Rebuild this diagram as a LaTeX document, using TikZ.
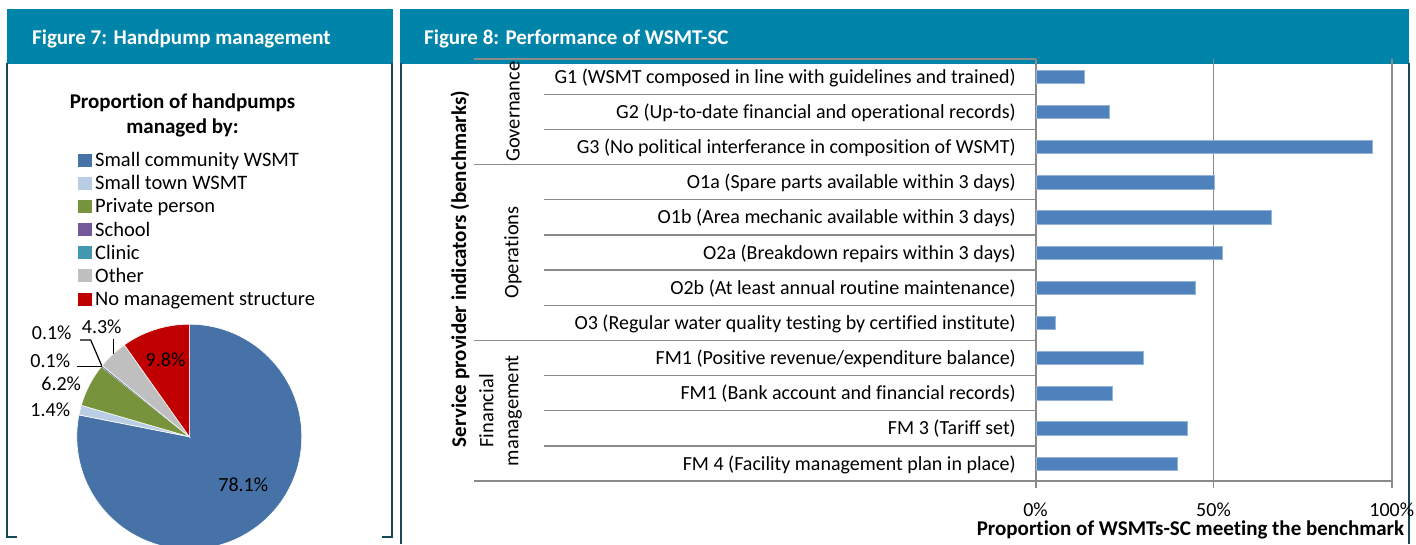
\documentclass[tikz,border=0pt]{standalone}
\usepackage{fontspec}
\setmainfont{Carlito}[Ligatures=NoCommon]
\definecolor{hdrteal}{HTML}{0084A9}
\definecolor{framecol}{HTML}{144A57}
\definecolor{gridgray}{HTML}{8A8A8A}
\definecolor{barblue}{HTML}{4F81BD}
\definecolor{pieblue}{HTML}{4672A7}
\definecolor{pielight}{HTML}{B9CDE5}
\definecolor{piegreen}{HTML}{77933C}
\definecolor{piepurple}{HTML}{73599B}
\definecolor{pieteal}{HTML}{4198AF}
\definecolor{piegray}{HTML}{BFBFBF}
\definecolor{piered}{HTML}{C00000}
\begin{document}
\begin{tikzpicture}[x=1pt,y=-1pt,
  txt/.style={inner sep=0pt, font=\fontsize{20}{24}\selectfont},
  btxt/.style={inner sep=0pt, font=\fontsize{21}{25}\selectfont\bfseries},
  hdrtext/.style={btxt, text=white, anchor=base west},
  framepen/.style={draw=framecol, line width=1.2pt},
  axisline/.style={draw=gridgray, line width=1.3pt},
  barbox/.style={fill=barblue, draw=barblue!60!white, line width=0.4pt},
  leader/.style={draw=black, line width=1.2pt},
  slice/.style={draw=white, line width=0.6pt},
  keybox/.style={minimum width=13.3pt, minimum height=13pt, inner sep=0pt},
]
\useasboundingbox (0,0) rectangle (1416,544);
\fill[white] (0,0) rectangle (1416,544);

% ---------- panel headers and frames ----------
\fill[hdrteal] (7,9) rectangle (393,63.5);
\fill[hdrteal] (400,9) rectangle (1409,63.5);
\node[hdrtext] (title7) at (32,44.3) {Figure 7: Handpump management};
\node[hdrtext] (title8) at (424,44.3) {Figure 8: Performance of WSMT-SC};
\draw[framepen] (7,63) -- (7,537) -- (17,537);
\draw[framepen] (392,63) -- (392,537) -- (382,537);
\draw[framepen] (401,63) -- (401,544);
\draw[framepen] (1409,63) -- (1409,544);

% ---------- Figure 7: pie chart ----------
\node[btxt, anchor=base] (pietitleA) at (182.5,108) {Proportion of handpumps};
\node[btxt, anchor=base] (pietitleB) at (182.5,133) {managed by:};

\foreach \lab/\col [count=\i from 0] in {Small community WSMT/pieblue, Small town WSMT/pielight,
  Private person/piegreen, School/piepurple, Clinic/pieteal, Other/piegray,
  No management structure/piered} {
  \node[keybox, fill=\col] (key\i) at (85,{166.7+23.1*\i-6.3}) {};
  \node[txt, font=\fontsize{20.5}{24}\selectfont, anchor=base west] (keytext\i) at (95,{166.7+23.1*\i}) {\lab};
}

\begin{scope}[shift={(189.3,436.7)}, yscale=-1]
  \filldraw[slice, fill=pieblue]   (0,0) -- (90:112.5) arc[start angle=90, end angle=-191.16, radius=112.5] -- cycle;
  \filldraw[slice, fill=pielight]  (0,0) -- (-191.16:112.5) arc[start angle=-191.16, end angle=-196.2, radius=112.5] -- cycle;
  \filldraw[slice, fill=piegreen]  (0,0) -- (-196.2:112.5) arc[start angle=-196.2, end angle=-218.52, radius=112.5] -- cycle;
  \fill[piepurple] (0,0) -- (-218.52:112.5) arc[start angle=-218.52, end angle=-218.88, radius=112.5] -- cycle;
  \fill[pieteal]   (0,0) -- (-218.88:112.5) arc[start angle=-218.88, end angle=-219.24, radius=112.5] -- cycle;
  \filldraw[slice, fill=piegray]   (0,0) -- (-219.24:112.5) arc[start angle=-219.24, end angle=-234.72, radius=112.5] -- cycle;
  \filldraw[slice, fill=piered]    (0,0) -- (-234.72:112.5) arc[start angle=-234.72, end angle=-270, radius=112.5] -- cycle;
\end{scope}

\node[txt, anchor=base] (pct781) at (243.3,491.7) {78.1\%};
\node[txt, anchor=base] (pct98)  at (165.5,366) {9.8\%};
\node[txt, anchor=base] (pct43)  at (101.7,333.3) {4.3\%};
\node[txt, anchor=base] (pct01a) at (51.7,339) {0.1\%};
\node[txt, anchor=base] (pct01b) at (50.3,367.3) {0.1\%};
\node[txt, anchor=base] (pct62)  at (61.2,390) {6.2\%};
\node[txt, anchor=base] (pct14)  at (50.3,416.7) {1.4\%};

\coordinate (ld43a) at (113.3,339.3);
\coordinate (ld43b) at (113.3,354);
\coordinate (ld01a) at (80,340);
\coordinate (ld01b) at (90.7,340);
\coordinate (ld01c) at (101.7,365.7);
\coordinate (ld02a) at (76.7,366.7);
\coordinate (ld02b) at (101.5,366.7);
\draw[leader] (ld43a) -- (ld43b);
\draw[leader] (ld01a) -- (ld01b) -- (ld01c);
\draw[leader] (ld02a) -- (ld02b);

% ---------- Figure 8: bar chart ----------
% category separators (long ones between groups)
\foreach \k in {0,3,8} {
  \draw[axisline] (474,{59+35.17*\k}) -- (1036,{59+35.17*\k});
}
\foreach \k in {1,2,4,5,6,7,9,10,11} {
  \draw[axisline] (544,{59+35.17*\k}) -- (1036,{59+35.17*\k});
}
\draw[axisline] (474,481) -- (1392,481);
% value axis, grid lines and ticks
\draw[axisline] (1036,59) -- (1036,488);
\draw[axisline] (1213.5,59) -- (1213.5,488);
\draw[axisline] (1392,59) -- (1392,488);

\foreach \v [count=\i from 0] in {13.5,20.6,94.4,50,66.1,52.4,44.6,5.4,30.1,21.4,42.5,39.6} {
  \path[barbox] (1036.6,{59+35.17*\i+17.58-6.7}) rectangle ({1036+3.56*\v},{59+35.17*\i+17.58+6.7});
}

\foreach \lab [count=\i from 0] in {
  {G1 (WSMT composed in line with guidelines and trained)},
  {G2 (Up-to-date financial and operational records)},
  {G3 (No political interferance in composition of WSMT)},
  {O1a (Spare parts available within 3 days)},
  {O1b (Area mechanic available within 3 days)},
  {O2a (Breakdown repairs within 3 days)},
  {O2b (At least annual routine maintenance)},
  {O3 (Regular water quality testing by certified institute)},
  {FM1 (Positive revenue/expenditure balance)},
  {FM1 (Bank account and financial records)},
  {FM 3 (Tariff set)},
  {FM 4 (Facility management plan in place)}} {
  \node[txt, anchor=base east] (cat\i) at (1016,{59+35.17*\i+17.58+6.6}) {\lab};
}

\node[txt, rotate=90, font=\fontsize{20.5}{24}\selectfont] (grpG) at (513,111.7) {Governance};
\node[txt, rotate=90, font=\fontsize{20.5}{24}\selectfont] (grpO) at (513,252.4) {Operations};
\node[txt, rotate=90, align=center, font=\fontsize{20.5}{25}\selectfont] (grpF) at (500.5,410.8) {Financial\\management};
\node[btxt, rotate=90] (yaxis) at (460,269) {Service provider indicators (benchmarks)};

\node[txt, anchor=base] (tick0)   at (1035.5,516) {0\%};
\node[txt, anchor=base] (tick50)  at (1213.5,516) {50\%};
\node[txt, anchor=base] (tick100) at (1391.7,516) {100\%};
\node[btxt, anchor=base] (xaxis) at (1190.5,535) {Proportion of WSMTs-SC meeting the benchmark};
\end{tikzpicture}
\end{document}
